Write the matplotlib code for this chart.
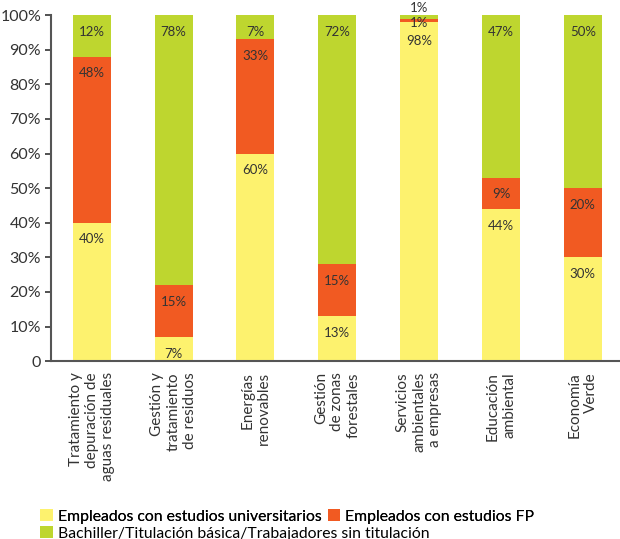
import matplotlib
matplotlib.use('Agg')
import matplotlib.pyplot as plt
import numpy as np
from matplotlib.patches import Patch

# Datos
categorias = [
    'Tratamiento y\ndepuración de\naguas residuales',
    'Gestión y\ntratamiento\nde residuos',
    'Energías\nrenovables',
    'Gestión\nde zonas\nforestales',
    'Servicios\nambientales\na empresas',
    'Educación\nambiental',
    'Economía\nVerde',
]
universitarios = [40, 7, 60, 13, 98, 44, 30]
fp = [48, 15, 33, 15, 1, 9, 20]
bachiller = [12, 78, 7, 72, 1, 47, 50]

series = ['Empleados con estudios universitarios',
          'Empleados con estudios FP',
          'Bachiller/Titulación básica/Trabajadores sin titulación']
colores = ['#FDF26E', '#F15A22', '#BED62F']

plt.rcParams['font.family'] = ['Lato', 'DejaVu Sans']
label_font = ['Liberation Sans Narrow', 'Lato', 'DejaVu Sans']

fig = plt.figure(figsize=(6.2, 5.39), dpi=100)
ax = fig.add_axes([0.082, 0.330, 0.924, 0.642])

x = np.arange(len(categorias))
ancho = 0.465
bottom = np.zeros(len(categorias))
valores = [universitarios, fp, bachiller]
for k, (vals, col) in enumerate(zip(valores, colores)):
    vals = np.array(vals, dtype=float)
    ax.bar(x, vals, ancho, bottom=bottom, color=col, linewidth=0, zorder=2)
    for i, v in enumerate(vals):
        top = bottom[i] + v
        if v < 3 and k == len(valores) - 1:
            # segmento pequeño arriba: etiqueta por encima
            ax.annotate(f'{int(v)}%', (x[i], top), xytext=(0, 1),
                        textcoords='offset points', ha='center', va='bottom',
                        fontsize=9.5, color='#333333', family=label_font,
                        annotation_clip=False)
        elif v < 3:
            ax.annotate(f'{int(v)}%', (x[i], top), xytext=(0, -3),
                        textcoords='offset points', ha='center', va='center',
                        fontsize=9.5, color='#333333', family=label_font)
        else:
            off = -14 if v > 90 else -12
            ax.annotate(f'{int(v)}%', (x[i], top), xytext=(0, off),
                        textcoords='offset points', ha='center', va='center',
                        fontsize=9.5, color='#333333', family=label_font)
    bottom += vals

ax.set_xlim(-0.5, 6.5)
ax.set_ylim(0, 100)
ax.set_yticks(range(0, 101, 10))
ax.set_yticklabels(['0'] + [f'{v}%' for v in range(10, 101, 10)])
ax.set_xticks(x)
ax.set_xticklabels(categorias, rotation=90, ha='center', va='top',
                   multialignment='right')
ax.tick_params(axis='x', length=0, pad=8, labelsize=11, colors='#333333')
ax.tick_params(axis='y', length=4, width=1.2, labelsize=11.5, colors='#333333',
               direction='out', pad=3)
for s in ['top', 'right']:
    ax.spines[s].set_visible(False)
ax.spines['left'].set_color('#555555')
ax.spines['left'].set_linewidth(1.5)
ax.spines['bottom'].set_color('#555555')
ax.spines['bottom'].set_linewidth(1.5)

# Leyenda en dos filas
h = [Patch(facecolor=c, edgecolor='none') for c in colores]
leg1 = fig.legend(h[:2], series[:2], ncol=2, loc='upper left',
                  bbox_to_anchor=(0.065, 0.055), frameon=False, fontsize=11.3,
                  handlelength=0.8, handleheight=0.8, handletextpad=0.3,
                  columnspacing=0.4, borderpad=0, borderaxespad=0)
fig.legend(h[2:], series[2:], loc='upper left',
           bbox_to_anchor=(0.065, 0.024), frameon=False, fontsize=11.3,
           handlelength=0.8, handleheight=0.8, handletextpad=0.3,
           borderpad=0, borderaxespad=0)
fig.add_artist(leg1)

fig.savefig('out.png', dpi=100, facecolor='white')
